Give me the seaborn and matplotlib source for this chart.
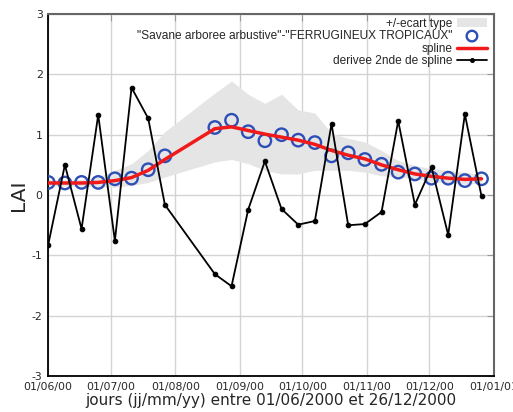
#Import the libraries
import pandas as pd
import matplotlib
matplotlib.use("Agg")
import matplotlib.pyplot as plt
import matplotlib.dates as mdates
import seaborn as sns

#Dates of the 8-day composites (two are missing in August)
dates = ["2000-06-01", "2000-06-09", "2000-06-17", "2000-06-25", "2000-07-03",
         "2000-07-11", "2000-07-19", "2000-07-27", "2000-08-20", "2000-08-28",
         "2000-09-05", "2000-09-13", "2000-09-21", "2000-09-29", "2000-10-07",
         "2000-10-15", "2000-10-23", "2000-10-31", "2000-11-08", "2000-11-16",
         "2000-11-24", "2000-12-02", "2000-12-10", "2000-12-18", "2000-12-26"]

#LAI observed
lai = [0.21, 0.20, 0.21, 0.21, 0.27, 0.28, 0.42, 0.65, 1.12, 1.24,
       1.05, 0.90, 1.00, 0.91, 0.87, 0.65, 0.70, 0.59, 0.51, 0.38,
       0.35, 0.28, 0.28, 0.24, 0.27]

#spline
spline = [0.20, 0.20, 0.20, 0.21, 0.24, 0.29, 0.41, 0.59, 1.10, 1.13,
          1.07, 1.01, 0.96, 0.91, 0.84, 0.74, 0.66, 0.60, 0.50, 0.42,
          0.35, 0.31, 0.28, 0.26, 0.27]

#second derivative of the spline
derivee = [-0.82, 0.50, -0.56, 1.33, -0.76, 1.78, 1.27, -0.16, -1.31, -1.51,
           -0.24, 0.56, -0.23, -0.49, -0.43, 1.18, -0.50, -0.48, -0.28, 1.23,
           -0.16, 0.46, -0.66, 1.34, -0.02]

#+/- standard deviation
ecart_haut = [0.26, 0.25, 0.26, 0.30, 0.41, 0.52, 0.74, 1.05, 1.69, 1.89,
              1.67, 1.52, 1.67, 1.41, 1.36, 1.02, 0.94, 0.88, 0.74, 0.57,
              0.49, 0.44, 0.41, 0.38, 0.34]
ecart_bas = [0.15, 0.15, 0.15, 0.14, 0.13, 0.16, 0.21, 0.30, 0.55, 0.59,
             0.52, 0.41, 0.35, 0.35, 0.41, 0.41, 0.41, 0.38, 0.32, 0.30,
             0.27, 0.22, 0.20, 0.18, 0.20]

lab_band = "+/-ecart type"
lab_obs = '"Savane arboree arbustive"-"FERRUGINEUX TROPICAUX"'
lab_spline = "spline"
lab_der = "derivee 2nde de spline"

df = pd.DataFrame({"date": pd.to_datetime(dates), "lai": lai, "spline": spline,
                   "derivee": derivee, "haut": ecart_haut, "bas": ecart_bas})

sns.set_style("white")
plt.rcParams["axes.unicode_minus"] = False

fig, ax = plt.subplots(figsize=(5.13, 4.12), dpi=100)
fig.subplots_adjust(left=0.094, right=0.963, bottom=0.087, top=0.966)

ax.fill_between(df.date, df.bas, df.haut, color="#e5e5e5", lw=0, label=lab_band, zorder=1)
sns.scatterplot(data=df, x="date", y="lai", ax=ax, marker="o", s=80,
                facecolor="none", edgecolor="#2e4fb5", linewidth=1.7,
                label=lab_obs, zorder=3)
sns.lineplot(data=df, x="date", y="spline", ax=ax, color="#f01a1a", lw=2.5,
             label=lab_spline, zorder=4)
sns.lineplot(data=df, x="date", y="derivee", ax=ax, color="black", lw=1.3,
             marker="o", markersize=3.3, markeredgecolor="black", label=lab_der, zorder=5)

#axes
ax.set_xlim(pd.Timestamp("2000-06-01"), pd.Timestamp("2001-01-01"))
ax.set_ylim(-3, 3)
ax.xaxis.set_major_locator(mdates.MonthLocator())
ax.xaxis.set_major_formatter(mdates.DateFormatter("%d/%m/%y"))
ax.set_yticks([-3, -2, -1, 0, 1, 2, 3])
ax.tick_params(axis="both", direction="in", length=5, color="#999999",
               labelsize=7.8, top=True, right=True, pad=4)
ax.grid(True, color="#d4d4d4", lw=1)
ax.set_axisbelow(True)
for s in ["left", "bottom"]:
    ax.spines[s].set_color("black")
    ax.spines[s].set_linewidth(1.3)
for s in ["top", "right"]:
    ax.spines[s].set_color("#666666")
    ax.spines[s].set_linewidth(1.5)

ax.set_xlabel("jours (jj/mm/yy) entre 01/06/2000 et 26/12/2000", fontsize=11, labelpad=1)
ax.set_ylabel("LAI", fontsize=14.5, labelpad=3)

#legend in the right order, labels before the handles
handles, labels = ax.get_legend_handles_labels()
order = [lab_band, lab_obs, lab_spline, lab_der]
hd = dict(zip(labels, handles))
ax.legend([hd[l] for l in order], order, loc="upper right",
          bbox_to_anchor=(0.988, 0.995), frameon=False,
          markerfirst=False, prop={"family": "Liberation Sans", "size": 8.6},
          labelspacing=0.05, handlelength=2.5, handletextpad=0.4,
          borderaxespad=0.0, borderpad=0.15, markerscale=0.85)

plt.savefig("out.png", dpi=100)
